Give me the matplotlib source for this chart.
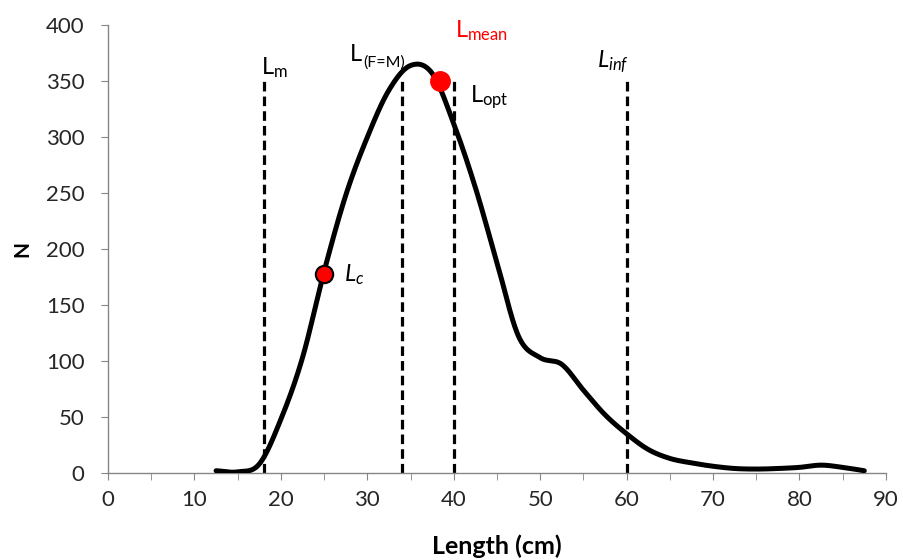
import matplotlib
matplotlib.use("Agg")
import matplotlib.pyplot as plt
import numpy as np

plt.rcParams['font.family'] = ['Lato', 'DejaVu Sans']
plt.rcParams['mathtext.fontset'] = 'custom'
plt.rcParams['mathtext.rm'] = 'Lato'
plt.rcParams['mathtext.it'] = 'Lato:italic'

# length-frequency data
length = [12.5, 15, 17.5, 20, 22.5, 25, 27.5, 30, 32.5, 35, 37.5, 40, 42.5, 45,
          47.5, 50, 52.5, 55, 57.5, 60, 62.5, 65, 67.5, 70, 72.5, 75, 77.5,
          80, 82.5, 85, 87.5]
count = [2, 1, 8, 48, 103, 180, 248, 300, 342, 364, 357, 312, 255, 188,
         122, 103, 97, 74, 52, 35, 21, 13, 9, 6, 4, 3.5, 4,
         5, 7, 5, 2]

# reference lengths
ref_x = [18, 34, 40, 60]
ref_top = 352
lc = (25, 178)
lmean = (38.4, 350)


def smooth(x, y, n=30):
    # catmull-rom like Excel's smoothed line
    x = np.asarray(x, float)
    y = np.asarray(y, float)
    px = np.concatenate([[2 * x[0] - x[1]], x, [2 * x[-1] - x[-2]]])
    py = np.concatenate([[2 * y[0] - y[1]], y, [2 * y[-1] - y[-2]]])
    xs, ys = [], []
    t = np.linspace(0, 1, n)
    for i in range(1, len(px) - 2):
        for arr, out in ((px, xs), (py, ys)):
            p0, p1, p2, p3 = arr[i - 1], arr[i], arr[i + 1], arr[i + 2]
            out.append(0.5 * (2 * p1 + (-p0 + p2) * t
                              + (2 * p0 - 5 * p1 + 4 * p2 - p3) * t ** 2
                              + (-p0 + 3 * p1 - 3 * p2 + p3) * t ** 3))
    return np.concatenate(xs), np.concatenate(ys)


fig = plt.figure(figsize=(9.04, 5.6), dpi=100)
ax = fig.add_axes([0.1195, 0.1554, 0.8605, 0.7996])

sx, sy = smooth(length, count)
ax.plot(sx, sy, color='black', lw=3.6, solid_capstyle='round', zorder=3)

for xv in ref_x:
    ax.plot([xv, xv], [0, ref_top], color='black', lw=2.3,
            dashes=(3, 1.6), zorder=2)

ax.plot(*lc, 'o', ms=12.5, mfc='#ff0000', mec='black', mew=1.5, zorder=4)
ax.plot(*lmean, 'o', ms=14, mfc='#ff0000', mec='#ff0000', zorder=4)

fs = 17
ax.text(17.7, 356, r'L$\mathregular{_m}$', fontsize=fs, color='black')
ax.text(28.0, 368, 'L', fontsize=fs, color='black')
ax.annotate('(F=M)', xy=(28.0, 368), xytext=(9.5, -4),
            textcoords='offset points', fontsize=11.5, color='black')
ax.text(40.2, 389, r'L$\mathregular{_{mean}}$', fontsize=fs, color='#ff0000')
ax.text(41.9, 331, r'L$\mathregular{_{opt}}$', fontsize=fs, color='black')
ax.text(56.6, 362, r'$\mathit{L_{inf}}$', fontsize=fs, color='black')
ax.text(27.3, 171, r'$\mathit{L_c}$', fontsize=fs, color='black')

ax.set_xlim(0, 90)
ax.set_ylim(0, 400)
ax.set_xticks(np.arange(0, 91, 10))
ax.set_xticks(np.arange(0, 91, 5), minor=True)
ax.set_yticks(np.arange(0, 401, 50))

for s in ['top', 'right']:
    ax.spines[s].set_visible(False)
for s in ['left', 'bottom']:
    ax.spines[s].set_color('#868686')
    ax.spines[s].set_linewidth(1)

ax.tick_params(axis='both', which='both', direction='out', length=5,
               color='#868686', labelsize=16, labelcolor='#262626')
ax.tick_params(axis='x', pad=7)
ax.tick_params(axis='y', pad=12)

ax.set_xlabel('Length (cm)', fontsize=18, fontweight='bold', labelpad=18)
ax.set_ylabel('N', fontsize=15, fontweight='bold', labelpad=10)

fig.savefig('out.png', dpi=100)
